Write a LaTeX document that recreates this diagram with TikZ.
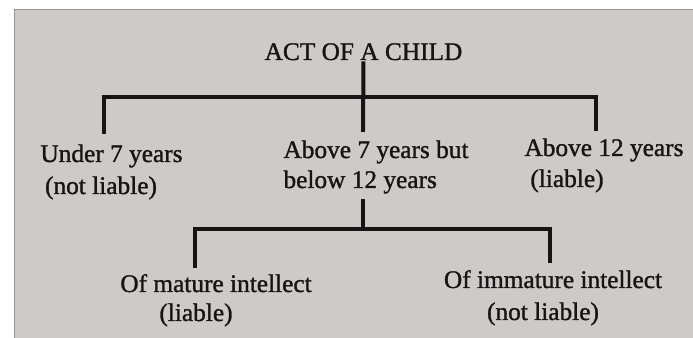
\documentclass[tikz,border=0pt]{standalone}
\usepackage{fontspec}
\setmainfont{Liberation Serif}
\newfontfamily\printfont[FakeBold=1.2]{Liberation Serif}
\definecolor{paper}{RGB}{206,202,200}
\definecolor{paperEdge}{RGB}{150,146,144}
\definecolor{ink}{RGB}{22,20,20}
\tikzset{every picture/.style={line width=0.75pt}}
\tikzset{
	label text/.style={anchor=base, inner sep=0pt, text=ink, font=\printfont\fontsize{19}{23}\selectfont},
	branch/.style={draw=ink, line width=3pt, line cap=rect}}

\begin{document}
\begin{tikzpicture}[x=0.75pt,y=0.75pt,yscale=-1,xscale=1]
	\useasboundingbox (0,0) rectangle (693,338);

	%Shape: Rectangle [id:paper sheet]
	\draw [draw=paperEdge, fill=paper] (14,10) rectangle (700,345) ;

	% Text Node
	\draw (363.5,60) node [label text] (title) {ACT OF A CHILD};
	% Text Node
	\draw (111.5,162) node [label text] (under) {Under 7 years};
	% Text Node
	\draw (101,194) node [label text] (underNote) {(not liable)};
	% Text Node
	\draw (283,158) node [label text, anchor=base west] (mid) {Above 7 years but};
	% Text Node
	\draw (283,188) node [label text, anchor=base west] (midNote) {below 12 years};
	% Text Node
	\draw (604,156) node [label text] (over) {Above 12 years};
	% Text Node
	\draw (567,187) node [label text] (overNote) {(liable)};
	% Text Node
	\draw (216,292) node [label text] (mature) {Of mature intellect};
	% Text Node
	\draw (196,321) node [label text] (matureNote) {(liable)};
	% Text Node
	\draw (553,288) node [label text] (immature) {Of immature intellect};
	% Text Node
	\draw (543,320) node [label text] (immatureNote) {(not liable)};

	\coordinate (topJoin) at (363,97);
	\coordinate (midEnd) at (363,130);
	\coordinate (underEnd) at (104,132);
	\coordinate (overEnd) at (596,129);
	\coordinate (lowJoin) at (363,229);
	\coordinate (matureEnd) at (195,266);
	\coordinate (immatureEnd) at (550,261);

	%Straight Lines [id:upper branch]
	\draw [branch, shorten <=2pt] (title.south) -- (midEnd) ;
	\draw [branch] (underEnd) |- (topJoin) -| (overEnd) ;
	%Straight Lines [id:lower branch]
	\draw [branch, shorten <=5pt] (midNote.south -| lowJoin) -- (lowJoin) ;
	\draw [branch] (matureEnd) |- (lowJoin) -| (immatureEnd) ;

\end{tikzpicture}
\end{document}
